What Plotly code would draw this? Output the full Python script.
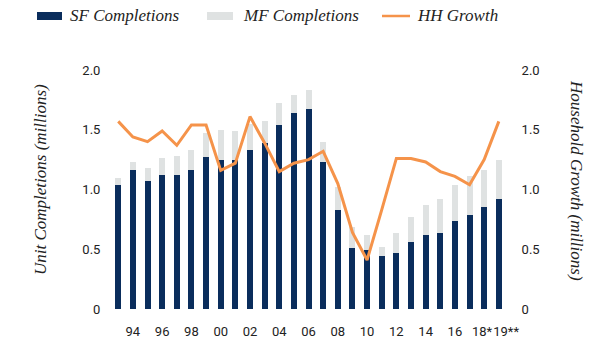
import plotly.graph_objects as go

# Housing completions vs. household formation, 1993-2019 (millions)
years = list(range(1993, 2020))
sf_completions = [1.04, 1.16, 1.07, 1.12, 1.12, 1.16, 1.27, 1.25, 1.25, 1.33, 1.39, 1.54, 1.64, 1.67,
                  1.23, 0.83, 0.51, 0.49, 0.44, 0.47, 0.56, 0.62, 0.64, 0.74, 0.79, 0.85, 0.92]
total_completions = [1.10, 1.23, 1.18, 1.26, 1.28, 1.33, 1.47, 1.50, 1.49, 1.55, 1.57, 1.72, 1.79, 1.83,
                     1.40, 1.02, 0.69, 0.62, 0.52, 0.64, 0.77, 0.87, 0.92, 1.04, 1.11, 1.16, 1.25]
mf_completions = [round(t - s, 2) for t, s in zip(total_completions, sf_completions)]
hh_growth = [1.57, 1.44, 1.40, 1.49, 1.37, 1.54, 1.54, 1.16, 1.22, 1.61, 1.39, 1.15, 1.22, 1.25,
             1.32, 1.05, 0.64, 0.41, 0.83, 1.26, 1.26, 1.23, 1.15, 1.11, 1.04, 1.25, 1.57]

# the two forecast-year labels sit nudged apart so they don't collide
x_tick_vals = [1994, 1996, 1998, 2000, 2002, 2004, 2006, 2008, 2010, 2012, 2014, 2016, 2017.85, 2019.5]
x_tick_text = ["94", "96", "98", "00", "02", "04", "06", "08", "10", "12", "14", "16", "18*", "19**"]
y_tick_vals = [0, 0.5, 1.0, 1.5, 2.0]
y_tick_text = ["0", "0.5", "1.0", "1.5", "2.0"]

NAVY = "#0a2d5c"
GREY = "#dfe2e2"
ORANGE = "#f5934a"
SERIF = "Liberation Serif, DejaVu Serif, serif"
SANS = "Roboto, Open Sans, DejaVu Sans, sans-serif"

L, R, T, B, W, H = 108, 84, 70, 34, 596, 343
PW, PH = W - L - R, H - T - B


def px_x(x):
    return (x - L) / PW


def px_y(y):
    return (H - B - y) / PH


fig = go.Figure()
fig.add_trace(go.Bar(x=years, y=sf_completions, name="SF Completions",
                     marker=dict(color=NAVY, line=dict(width=0)), width=0.41))
fig.add_trace(go.Bar(x=years, y=mf_completions, name="MF Completions",
                     marker=dict(color=GREY, line=dict(width=0)), width=0.41))
fig.add_trace(go.Scatter(x=years, y=hh_growth, name="HH Growth", mode="lines",
                         line=dict(color=ORANGE, width=3), yaxis="y2"))

# Hand-placed legend row across the top
legend_items = [
    ("SF Completions", NAVY, "rect", 37, 62, 68),
    ("MF Completions", GREY, "rect", 207, 233, 241),
    ("HH Growth", ORANGE, "line", 382, 410, 415),
]
shapes = []
annotations = []
for label, color, kind, x0, x1, tx in legend_items:
    if kind == "rect":
        shapes.append(dict(type="rect", xref="paper", yref="paper",
                           x0=px_x(x0), x1=px_x(x1), y0=px_y(20), y1=px_y(12),
                           fillcolor=color, line=dict(width=0)))
    else:
        shapes.append(dict(type="line", xref="paper", yref="paper",
                           x0=px_x(x0), x1=px_x(x1), y0=px_y(16), y1=px_y(16),
                           line=dict(color=color, width=2.5)))
    annotations.append(dict(text=label, xref="paper", yref="paper",
                            x=px_x(tx), y=px_y(16),
                            xanchor="left", yanchor="middle", showarrow=False,
                            font=dict(family=SERIF, size=17, color="#222222",
                                      style="italic")))

annotations.append(dict(text="Unit Completions (millions)", xref="paper", yref="paper",
                        x=px_x(40), y=px_y(180), textangle=-90,
                        xanchor="center", yanchor="middle", showarrow=False,
                        font=dict(family=SERIF, size=17, color="#222222", style="italic")))
annotations.append(dict(text="Household Growth (millions)", xref="paper", yref="paper",
                        x=px_x(577), y=px_y(180), textangle=90,
                        xanchor="center", yanchor="middle", showarrow=False,
                        font=dict(family=SERIF, size=17, color="#222222", style="italic")))

axis_font = dict(family=SANS, size=13, color="#222222")
fig.update_layout(
    width=W, height=H,
    margin=dict(l=L, r=R, t=T, b=B),
    paper_bgcolor="white", plot_bgcolor="white",
    barmode="stack", showlegend=False,
    shapes=shapes, annotations=annotations,
    xaxis=dict(range=[1992.3, 2019.9], tickvals=x_tick_vals, ticktext=x_tick_text,
               showgrid=False, zeroline=False, showline=False, automargin=False,
               ticks="outside", ticklen=10, tickcolor="rgba(0,0,0,0)",
               tickfont=axis_font, tickangle=0),
    yaxis=dict(range=[0, 2], tickvals=y_tick_vals, ticktext=y_tick_text,
               showgrid=False, zeroline=False, showline=False, automargin=False,
               ticks="outside", ticklen=4, tickcolor="rgba(0,0,0,0)",
               tickfont=axis_font),
    yaxis2=dict(range=[0, 2], tickvals=y_tick_vals, ticktext=y_tick_text,
                overlaying="y", side="right", automargin=False,
                showgrid=False, zeroline=False, showline=False,
                ticks="outside", ticklen=6, tickcolor="rgba(0,0,0,0)",
                tickfont=axis_font),
)

fig.write_html("out.html")
